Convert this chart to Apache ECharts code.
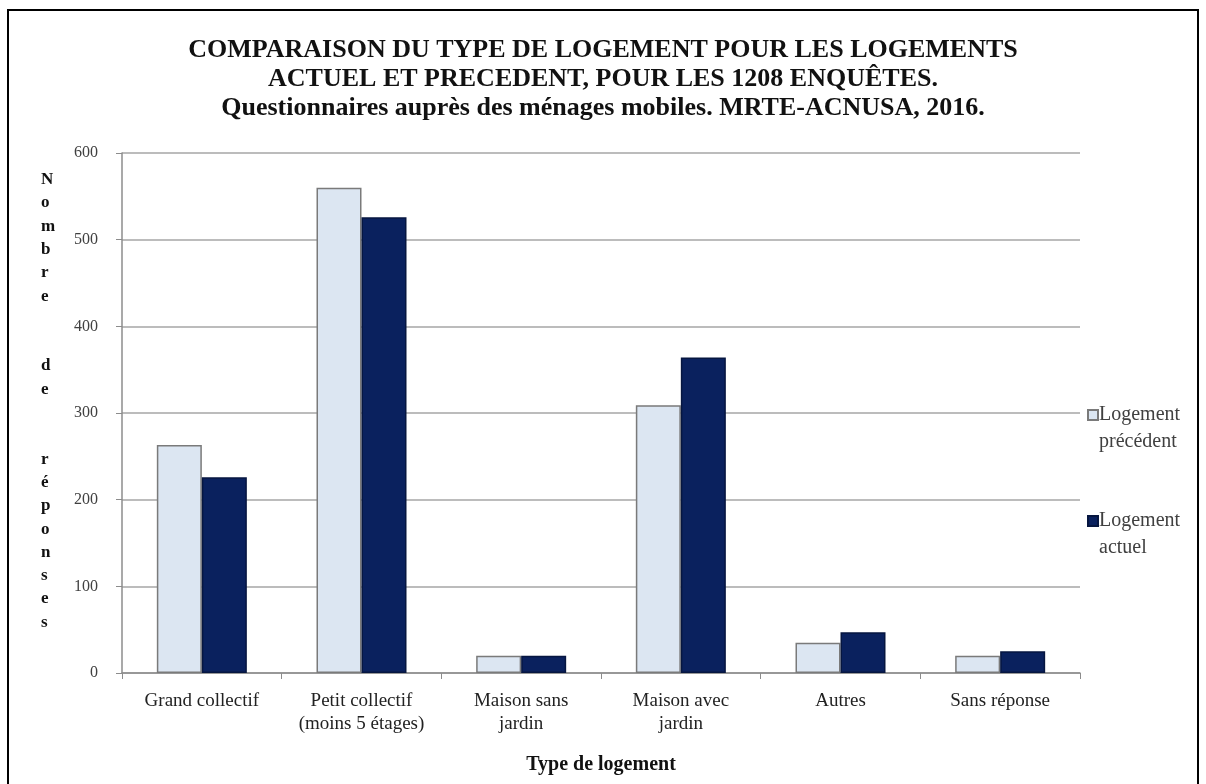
<!DOCTYPE html>
<html>
<head>
<meta charset="utf-8">
<script src="https://cdn.jsdelivr.net/npm/echarts@6/dist/echarts.min.js"></script>
<style>
html,body{margin:0;padding:0;background:#fff;}
#chart{width:1206px;height:784px;}
</style>
</head>
<body>
<div id="chart"></div>
<script>
const titleLines = [
  "COMPARAISON DU TYPE DE LOGEMENT POUR LES LOGEMENTS",
  "ACTUEL ET PRECEDENT, POUR LES 1208 ENQUÊTES.",
  "Questionnaires auprès des ménages mobiles. MRTE-ACNUSA, 2016."
];
const categories = ["Grand collectif", "Petit collectif\n(moins 5 étages)", "Maison sans\njardin", "Maison avec\njardin", "Autres", "Sans réponse"];
const seriesNames = ["Logement\nprécédent", "Logement\nactuel"];
const precedent = [263, 560, 20, 309, 35, 20];
const actuel = [226, 526, 20, 364, 47, 25];
const yTicks = [0, 100, 200, 300, 400, 500, 600];
const yAxisTitle = "Nombre de réponses";
const xAxisTitle = "Type de logement";

const serif = "'Liberation Serif', 'DejaVu Serif', serif";
const chart = echarts.init(document.getElementById('chart'));

// stacked vertical letters for the y-axis title
const yTitleStacked = yAxisTitle.split(' ').map(w => w.split('').join('\n')).join('\n\n\n');

// legend square placed at the top of a taller icon box, so it sits on the first text line
const legendIcon = 'path://M0,0h10v10h-10z M0,36';

chart.setOption({
  backgroundColor: '#ffffff',
  animation: false,
  title: {
    text: titleLines.join('\n'),
    left: 'center',
    top: 31,
    textStyle: { fontFamily: serif, fontSize: 26, fontWeight: 'bold', color: '#111', lineHeight: 29 }
  },
  legend: {
    orient: 'vertical',
    left: 1082,
    top: 396,
    itemWidth: 10,
    itemHeight: 36,
    itemGap: 52,
    icon: legendIcon,
    textStyle: { fontFamily: serif, fontSize: 20, color: '#404040', lineHeight: 27, padding: [0, 0, 0, -4] },
    data: seriesNames
  },
  grid: { left: 122, right: 126, top: 153, bottom: 111, containLabel: false },
  xAxis: {
    type: 'category',
    data: categories,
    name: xAxisTitle,
    nameLocation: 'middle',
    nameGap: 82,
    nameTextStyle: { fontFamily: serif, fontSize: 20, fontWeight: 'bold', color: '#111' },
    axisLine: { lineStyle: { color: '#8c8c8c', width: 1.5 } },
    axisTick: { show: true, length: 6, lineStyle: { color: '#8c8c8c' } },
    axisLabel: { fontFamily: serif, fontSize: 19, color: '#222', margin: 17, lineHeight: 23, interval: 0 },
    splitLine: { show: false }
  },
  yAxis: {
    type: 'value',
    min: 0,
    max: 600,
    interval: 100,
    axisLine: { show: true, lineStyle: { color: '#8c8c8c', width: 1.5 } },
    axisTick: { show: true, length: 6, lineStyle: { color: '#8c8c8c' } },
    axisLabel: { fontFamily: serif, fontSize: 16, color: '#404040', margin: 24,
      formatter: v => yTicks.includes(v) ? String(v) : '' },
    splitLine: { show: true, lineStyle: { color: '#a6a6a6', width: 1.5 } }
  },
  series: [
    {
      name: seriesNames[0], type: 'bar', data: precedent,
      barWidth: 45, barGap: '0%',
      itemStyle: { color: '#dce6f2', borderColor: '#7a7a7a', borderWidth: 1.5 }
    },
    {
      name: seriesNames[1], type: 'bar', data: actuel,
      barWidth: 45, barGap: '0%',
      itemStyle: { color: '#0a215e', borderColor: '#061640', borderWidth: 1.5 }
    }
  ],
  graphic: [
    {
      type: 'rect', silent: true,
      shape: { x: 8, y: 10, width: 1190, height: 800 },
      style: { fill: 'none', stroke: '#000', lineWidth: 2 }
    },
    {
      type: 'text', silent: true,
      left: 41, top: 168,
      style: { text: yTitleStacked, fontFamily: serif, fontSize: 17, fontWeight: 'bold', fill: '#111', lineHeight: 23.3, align: 'center' }
    }
  ]
});
</script>
</body>
</html>
